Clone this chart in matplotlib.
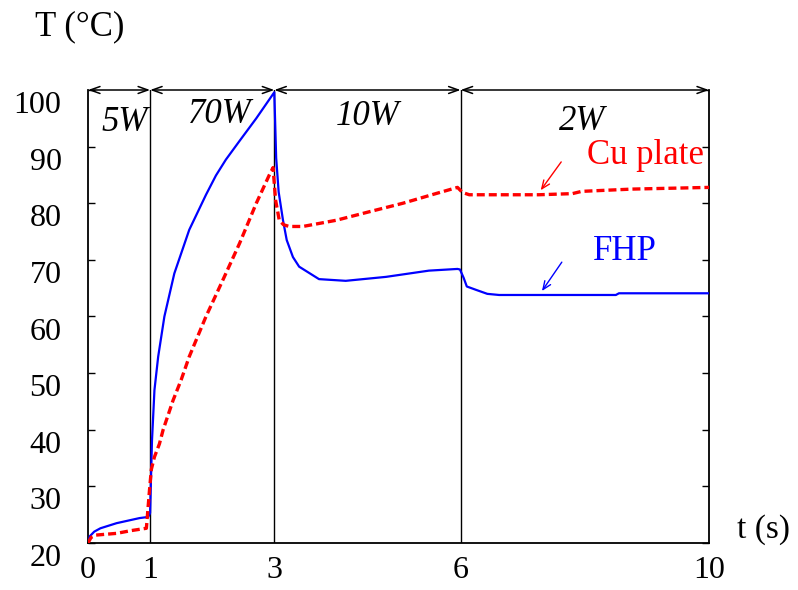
import matplotlib
matplotlib.use("Agg")
import matplotlib.pyplot as plt
from matplotlib.transforms import ScaledTranslation

plt.rcParams['font.family'] = ['Liberation Serif', 'DejaVu Serif']

# measured temperature histories (time in s, temperature in degC)
fhp_t = [0, 0.03, 0.1, 0.2, 0.46, 0.83, 0.97, 1.0, 1.03, 1.07, 1.13, 1.23, 1.39,
         1.63, 1.9, 2.06, 2.22, 2.44, 2.71, 3.0, 3.03, 3.07, 3.14, 3.2, 3.3, 3.4,
         3.72, 4.15, 4.8, 5.49, 5.95, 5.99, 6.05, 6.1, 6.25, 6.43, 6.62, 8.5, 8.55, 10]
fhp_T = [20, 21.2, 22.0, 22.6, 23.5, 24.4, 24.6, 25.3, 38, 47, 52.9, 60, 67.6,
         75.3, 81.5, 84.9, 87.7, 91.0, 95, 99.6, 88, 82, 77, 73.5, 70.5, 68.8,
         66.6, 66.3, 67.0, 68.1, 68.4, 68.3, 66.8, 65.3, 64.7, 64.0, 63.8, 63.8, 64.1, 64.1]

cu_t = [0, 0.05, 0.13, 0.46, 0.7, 0.94, 0.99, 1.02, 1.07, 1.15, 1.21, 1.37, 1.5,
        1.63, 1.9, 2.17, 2.44, 2.71, 2.92, 2.98, 3.02, 3.08, 3.15, 3.24, 3.46, 4.0,
        4.53, 5.07, 5.6, 5.95, 6.03, 6.14, 6.62, 7.26, 7.8, 7.95, 8.76, 10]
cu_T = [20, 21.0, 21.4, 21.7, 22.2, 22.6, 29.3, 33, 35.2, 37.5, 40, 45.2, 48.8,
        52.9, 60, 66.4, 72.9, 80, 85, 86.3, 80.6, 77, 76.2, 75.9, 75.9, 77.0,
        78.5, 80.0, 81.7, 82.8, 81.9, 81.5, 81.5, 81.5, 81.7, 82.1, 82.5, 82.8]

# power steps
step_edges = [0, 1, 3, 6, 10]
step_labels = ['5W', '70W', '10W', '2W']
step_label_pos = [(0.59, 94.2), (2.13, 95.6), (4.5, 95.4), (7.95, 94.5)]

xticks = [0, 1, 3, 6, 10]
yticks = [20, 30, 40, 50, 60, 70, 80, 90, 100]

fig = plt.figure(figsize=(7.98, 5.9), dpi=100)
ax = fig.add_axes([88 / 798, 1 - 543 / 590, 621 / 798, 453 / 590])

ax.plot(fhp_t, fhp_T, color='#0000ff', lw=1.6, zorder=3)
ax.plot(cu_t, cu_T, color='#ff0000', lw=2.4, dashes=(2.4, 1.2), zorder=3)

for x in step_edges[1:-1]:
    ax.axvline(x, color='black', lw=1.0, zorder=2)

# double arrows marking each power level
for a, b in zip(step_edges[:-1], step_edges[1:]):
    ax.annotate('', xy=(b, 100), xytext=(a, 100), annotation_clip=False,
                arrowprops=dict(arrowstyle='<->,head_length=0.7,head_width=0.25',
                                color='black', lw=1.1, shrinkA=0, shrinkB=0))

for lab, (x, y) in zip(step_labels, step_label_pos):
    ax.text(x, y, lab, fontsize=25, style='italic', ha='center', va='center')

ax.text(8.98, 88.5, 'Cu plate', color='#ff0000', fontsize=25, ha='center', va='center')
ax.annotate('', xy=(7.29, 82.3), xytext=(7.62, 87.3),
            arrowprops=dict(arrowstyle='->,head_length=0.6,head_width=0.25',
                            color='#ff0000', lw=1.0, shrinkA=0, shrinkB=0))
ax.text(8.65, 71.4, 'FHP', color='#0000ff', fontsize=25, ha='center', va='center')
ax.annotate('', xy=(7.31, 64.5), xytext=(7.63, 69.6),
            arrowprops=dict(arrowstyle='->,head_length=0.6,head_width=0.25',
                            color='#0000ff', lw=1.0, shrinkA=0, shrinkB=0))

ax.set_xlim(0, 10)
ax.set_ylim(20, 100)
ax.set_xticks(xticks)
ax.set_yticks(yticks)
ax.tick_params(axis='x', length=0, pad=9, labelsize=23)
ax.tick_params(axis='y', direction='in', length=5, width=1, pad=19,
               labelsize=23, right=True)
ax.spines['top'].set_visible(False)
for s in ('left', 'right', 'bottom'):
    ax.spines[s].set_linewidth(1.3)

shift = ScaledTranslation(0, -12 / 100, fig.dpi_scale_trans)
for lbl in ax.get_yticklabels():
    lbl.set_transform(lbl.get_transform() + shift)

fig.text(35 / 798, 1 - 35 / 590, 'T (°C)', fontsize=25, ha='left', va='baseline')
fig.text(737 / 798, 1 - 538 / 590, 't (s)', fontsize=24, ha='left', va='baseline')

fig.savefig('out.png', dpi=100)
